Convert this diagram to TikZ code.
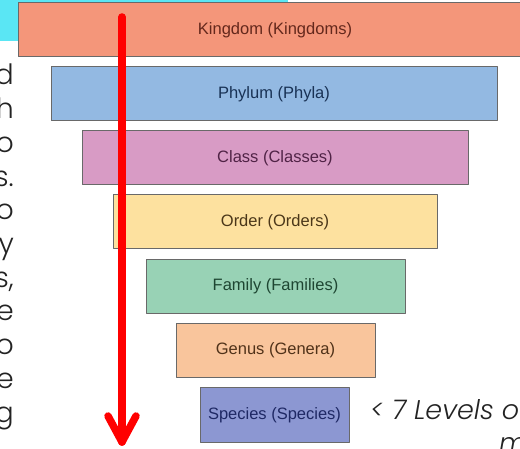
\documentclass[tikz,border=0pt]{standalone}
\usepackage{fontspec}
\setmainfont{Liberation Sans}
\newfontfamily\slidefont{Poppins}[UprightFont=* Light, ItalicFont=* Light Italic]
\definecolor{slidecyan}{RGB}{90,230,244}
\definecolor{barline}{RGB}{105,105,105}
\definecolor{sidegray}{RGB}{35,35,35}
\definecolor{kingdomfill}{RGB}{244,150,122}
\definecolor{kingdomtext}{RGB}{100,40,28}
\definecolor{phylumfill}{RGB}{147,185,226}
\definecolor{phylumtext}{RGB}{25,50,85}
\definecolor{classfill}{RGB}{216,155,197}
\definecolor{classtext}{RGB}{80,35,70}
\definecolor{orderfill}{RGB}{253,225,159}
\definecolor{ordertext}{RGB}{75,55,25}
\definecolor{familyfill}{RGB}{152,210,181}
\definecolor{familytext}{RGB}{30,70,50}
\definecolor{genusfill}{RGB}{249,197,156}
\definecolor{genustext}{RGB}{80,50,25}
\definecolor{speciesfill}{RGB}{140,151,210}
\definecolor{speciestext}{RGB}{30,40,100}
\begin{document}
\begin{tikzpicture}[x=1pt, y=-1pt, line join=round, line cap=round,
 bar/.style={draw=barline, line width=1pt, minimum height=54pt, inner sep=0pt, font=\fontsize{16.5}{18}\selectfont},
 sidetext/.style={font=\slidefont\fontsize{28}{30}\selectfont, text=sidegray, inner sep=0pt},
 redarrow/.style={red, line width=7.5pt}]
 \useasboundingbox (0,0) rectangle (520,449);
 \clip (0,0) rectangle (520,449);
 \fill[slidecyan] (0,0) rectangle (288,41);
 \node[bar, fill=kingdomfill, text=kingdomtext, minimum width=514pt] (kingdom) at (275,30) {Kingdom (Kingdoms)};
 \node[bar, fill=phylumfill, text=phylumtext, minimum width=446pt] (phylum) at (274,94) {Phylum (Phyla)};
 \node[bar, fill=classfill, text=classtext, minimum width=386pt] (class) at (275,158) {Class (Classes)};
 \node[bar, fill=orderfill, text=ordertext, minimum width=324pt] (order) at (275,222) {Order (Orders)};
 \node[bar, fill=familyfill, text=familytext, minimum width=259pt] (family) at (275.5,286.5) {Family (Families)};
 \node[bar, fill=genusfill, text=genustext, minimum width=199pt] (genus) at (275.5,350.5) {Genus (Genera)};
 \node[bar, fill=speciesfill, text=speciestext, minimum width=149pt] (species) at (274.5,415) {Species (Species)};
 \coordinate (arrowtop) at (122,17);
 \coordinate (arrowtip) at (122,442);
 \draw[redarrow] (arrowtop) -- (arrowtip);
 \draw[redarrow] (arrowtip) ++(-14,-26) -- (arrowtip) -- ++(14,-26);
 \foreach\t [count=\i] in {d,h,o,s.,o,y,{s,},e,o,e,g}{\node[sidetext, anchor=base east] (side\i) at (14,{85+33.7*(\i-1)}){\t};}
 \node[sidetext, anchor=base west, font=\slidefont\itshape\fontsize{27}{30}\selectfont] (levels) at (370,419) {< 7 Levels of};
 \node[sidetext, anchor=base west, font=\slidefont\itshape\fontsize{27}{30}\selectfont] (more) at (499,452) {m};
\end{tikzpicture}
\end{document}
